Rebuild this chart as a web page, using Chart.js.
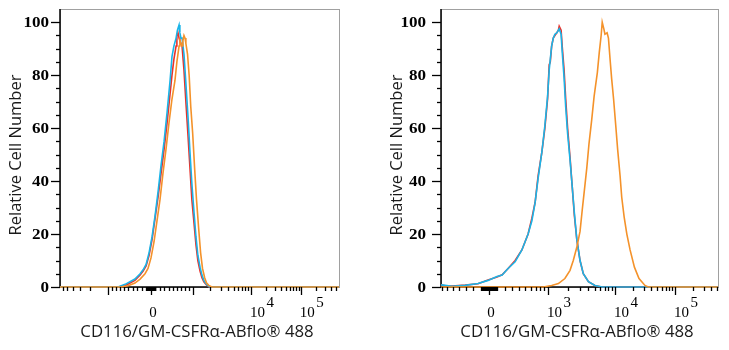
<!DOCTYPE html>
<html>
<head>
<meta charset="utf-8">
<script src="https://cdn.jsdelivr.net/npm/chart.js@4.4.0/dist/chart.umd.min.js"></script>
<style>
  body { margin: 0; background: #fff; }
  .panel { position: absolute; top: 0; height: 350px; }
  #wrapLeft { left: 0; width: 365px; }
  #wrapRight { left: 365px; width: 364px; }
</style>
</head>
<body>
<div class="panel" id="wrapLeft"><canvas id="leftChart" width="365" height="350"></canvas></div>
<div class="panel" id="wrapRight"><canvas id="rightChart" width="364" height="350"></canvas></div>
<script>
// histogram data, x = display channel (0-1024), y = relative cell number

// left panel
const leftRedX = [0, 213, 239, 257, 275, 294, 305, 316, 327, 338, 349, 360, 371, 382, 393, 404, 411, 418, 426, 429, 433, 437, 440, 448, 455, 462, 470, 477, 484, 492, 499, 506, 514, 521, 528, 536, 547, 1024];
const leftRedY = [0, 0, 0.5, 1.5, 2.5, 4.5, 6, 8, 12, 18, 26, 34, 43, 52, 62, 73, 80, 86, 91, 95, 96, 94, 93, 91, 82, 70, 57, 45, 33, 24, 16, 10, 6, 3.5, 2, 1, 0, 0];

const leftCyanX = [0, 213, 239, 257, 275, 294, 305, 316, 327, 338, 349, 360, 371, 382, 393, 404, 411, 418, 426, 431, 437, 440, 444, 448, 455, 462, 470, 477, 484, 492, 499, 506, 514, 521, 528, 536, 543, 550, 1024];
const leftCyanY = [0, 0, 1, 2, 3, 5, 6.5, 8.5, 13, 19, 27, 36, 46, 55, 66, 78, 87, 91, 94, 97, 99, 96, 94, 94, 88, 77, 64, 51, 39, 28, 19, 12, 7.5, 4.5, 2.5, 1.2, 0.5, 0, 0];

const leftOrangeX = [0, 224, 250, 275, 294, 312, 323, 334, 345, 356, 367, 378, 389, 400, 411, 422, 429, 437, 440, 444, 448, 451, 455, 459, 462, 468, 474, 480, 487, 494, 501, 509, 516, 523, 531, 538, 546, 558, 1024];
const leftOrangeY = [0, 0, 0.5, 1.5, 3, 5, 7, 11, 17, 25, 33, 43, 52, 62, 71, 78, 85, 91, 93, 92, 91, 93, 95, 94, 92, 88, 80, 68, 58, 45, 33, 22, 13, 7, 3.5, 1.5, 0.6, 0, 0];

// right panel
const rightRedX = [0, 15, 41, 89, 137, 174, 207, 226, 248, 274, 299, 322, 336, 348, 359, 373, 384, 394, 400, 404, 409, 415, 421, 428, 434, 437, 444, 448, 455, 461, 468, 477, 485, 493, 502, 514, 526, 545, 569, 595, 1024];
const rightRedY = [0.8, 0.5, 0.4, 0.7, 1.2, 2.6, 3.8, 4.6, 7, 10, 14, 20, 26, 32, 42, 51, 60, 71, 84, 85, 91, 94, 95, 96, 97, 98.5, 97, 91, 82, 71, 60, 49, 38, 27, 18, 10, 5, 2, 0.6, 0, 0];

const rightCyanX = [0, 15, 41, 89, 137, 174, 207, 226, 248, 274, 299, 322, 336, 348, 359, 373, 384, 394, 400, 404, 409, 415, 421, 428, 434, 437, 444, 448, 455, 461, 468, 477, 485, 493, 502, 514, 526, 545, 569, 595, 1024];
const rightCyanY = [0.8, 0.6, 0.3, 0.6, 1.3, 2.5, 4, 4.5, 7, 9.5, 14, 20, 25, 32, 41, 51, 61, 72, 82, 86, 91, 94, 95.5, 96, 97, 97.5, 95.5, 89, 79, 68, 58, 48, 38, 28, 18, 10, 5, 2, 0.6, 0, 0];

const rightOrangeX = [0, 378, 409, 434, 458, 477, 489, 502, 514, 522, 530, 539, 547, 557, 566, 572, 578, 585, 592, 596, 602, 606, 614, 619, 625, 631, 638, 646, 653, 662, 668, 677, 687, 699, 715, 732, 754, 766, 1024];
const rightOrangeY = [0, 0, 0.6, 1.3, 3.2, 6.3, 10, 15, 21, 29, 36.5, 45, 54, 63, 72, 76.5, 81, 88.5, 95, 100, 97.5, 95.5, 96, 94, 86, 78.5, 71, 61, 52, 42, 34, 26.5, 20, 14, 7.5, 3.2, 0.6, 0, 0];

// axis labels
const yTickValues = [0, 20, 40, 60, 80, 100];
const leftXLabels = [0, 1e4, 1e5];
const rightXLabels = [0, 1e3, 1e4, 1e5];
const xTitle = 'CD116/GM-CSFRα-ABflo® 488';
const yTitle = 'Relative Cell Number';

const colors = { red: '#e8322b', cyan: '#1ab4e8', orange: '#f4922a' };

// biexponential display: channel of -1e3, 0, 1e3, 1e4, 1e5 plus linear width near zero
const leftScale = { pm: 176, p0: 334, p3: 488, p4: 701, p5: 884, c: 1500 };
const rightScale = { pm: -41, p0: 177, p3: 396, p4: 643, p5: 865, c: 500 };

function makeTransform(a) {
  const k = Math.asinh(1000 / a.c);
  return function (v) {
    if (v >= 1e4) return a.p4 + (Math.log10(v) - 4) * (a.p5 - a.p4);
    if (v >= 1e3) return a.p3 + (Math.log10(v) - 3) * (a.p4 - a.p3);
    if (v >= 0) return a.p0 + (a.p3 - a.p0) * Math.asinh(v / a.c) / k;
    if (v > -1e3) return a.p0 - (a.p0 - a.pm) * Math.asinh(-v / a.c) / k;
    return a.pm - (Math.log10(-v) - 3) * (a.p4 - a.p3);
  };
}

// tick values for the flow axis
const majorValues = [-1e4, -1e3, 0, 1e3, 1e4, 1e5];
const minorValues = [];
for (let j = 1; j <= 5; j++) {
  for (let k = 1; k <= 9; k++) {
    if (k === 1 && j >= 3) continue;
    minorValues.push(k * Math.pow(10, j), -k * Math.pow(10, j));
  }
}

const panels = {
  leftChart: { t: makeTransform(leftScale), labels: leftXLabels, yGap: 11 },
  rightChart: { t: makeTransform(rightScale), labels: rightXLabels, yGap: 15 }
};

function stretchText(ctx, text, x, y, align, sx) {
  ctx.save();
  ctx.translate(x, y);
  ctx.scale(sx, 1);
  ctx.textAlign = align;
  ctx.fillText(text, 0, 0);
  ctx.restore();
}

const flowAxes = {
  id: 'flowAxes',
  beforeDatasetsDraw(chart) {
    const { ctx, chartArea: a } = chart;
    ctx.save();
    ctx.strokeStyle = '#a0a0a0';
    ctx.lineWidth = 1;
    ctx.strokeRect(a.left + 0.5, a.top + 0.5, a.right - a.left, a.bottom - a.top);
    ctx.strokeStyle = '#000';
    ctx.lineWidth = 1.5;
    ctx.beginPath();
    ctx.moveTo(a.left, a.top);
    ctx.lineTo(a.left, a.bottom);
    ctx.lineTo(a.right, a.bottom);
    ctx.stroke();
    ctx.restore();
  },
  afterDraw(chart) {
    const { ctx, chartArea: a } = chart;
    const xs = chart.scales.x, ys = chart.scales.y;
    const p = panels[chart.canvas.id];
    ctx.save();
    ctx.strokeStyle = '#000';
    ctx.fillStyle = '#000';
    ctx.lineWidth = 1.3;

    // y ticks
    for (let v = 0; v <= 100; v += 5) {
      const y = Math.round(ys.getPixelForValue(v)) + 0.5;
      const len = v % 20 === 0 ? 9 : 4;
      ctx.beginPath();
      ctx.moveTo(a.left - len, y);
      ctx.lineTo(a.left, y);
      ctx.stroke();
    }
    ctx.font = 'bold 14px "Liberation Serif"';
    ctx.textBaseline = 'middle';
    yTickValues.forEach(v => {
      stretchText(ctx, String(v), a.left - p.yGap, ys.getPixelForValue(v) + 1, 'right', 1.22);
    });

    // x ticks
    const drawTick = (v, len) => {
      const ch = p.t(v);
      if (ch < 0 || ch > 1024) return;
      const x = Math.round(xs.getPixelForValue(ch)) + 0.5;
      ctx.beginPath();
      ctx.moveTo(x, a.bottom);
      ctx.lineTo(x, a.bottom + len);
      ctx.stroke();
    };
    minorValues.forEach(v => drawTick(v, 4));
    majorValues.forEach(v => drawTick(v, 8));

    ctx.textBaseline = 'alphabetic';
    ctx.font = '15px "Liberation Serif"';
    p.labels.forEach(v => {
      const x = xs.getPixelForValue(p.t(v));
      if (v === 0) {
        ctx.textAlign = 'center';
        ctx.fillText('0', x + 2, a.bottom + 30);
      } else {
        ctx.textAlign = 'left';
        const base = '10';
        ctx.fillText(base, x - 1, a.bottom + 30);
        const w = ctx.measureText(base).width;
        ctx.fillText(String(Math.round(Math.log10(v))), x + w + 0.5, a.bottom + 20);
      }
    });

    // axis titles
    ctx.fillStyle = '#1a1a1a';
    ctx.font = '16.8px "Open Sans"';
    ctx.textAlign = 'center';
    ctx.fillText(xTitle, (a.left + a.right) / 2 - 2.5, a.bottom + 50);
    ctx.save();
    ctx.font = '16.5px "Open Sans"';
    ctx.translate(a.left - 43.5, (a.top + a.bottom) / 2 + 7);
    ctx.rotate(-Math.PI / 2);
    ctx.textBaseline = 'middle';
    ctx.fillText(yTitle, 0, 0);
    ctx.restore();
    ctx.restore();
  }
};

function series(xs, ys, color) {
  return {
    data: xs.map((x, i) => ({ x: x, y: ys[i] })),
    borderColor: color,
    borderWidth: 1.6,
    pointRadius: 0,
    tension: 0,
    fill: false,
    clip: 3
  };
}

function makeChart(id, sets, pad) {
  return new Chart(document.getElementById(id), {
    type: 'line',
    data: { datasets: sets },
    options: {
      responsive: false,
      animation: false,
      layout: { padding: pad },
      plugins: { legend: { display: false }, tooltip: { enabled: false } },
      scales: {
        x: { type: 'linear', min: 0, max: 1024, display: false },
        y: { min: 0, max: 105, display: false }
      }
    },
    plugins: [flowAxes]
  });
}

// first dataset is drawn on top: orange, then cyan, then red underneath
makeChart('leftChart', [
  series(leftOrangeX, leftOrangeY, colors.orange),
  series(leftCyanX, leftCyanY, colors.cyan),
  series(leftRedX, leftRedY, colors.red)
], { left: 60, right: 26, top: 9, bottom: 63 });

makeChart('rightChart', [
  series(rightOrangeX, rightOrangeY, colors.orange),
  series(rightCyanX, rightCyanY, colors.cyan),
  series(rightRedX, rightRedY, colors.red)
], { left: 76, right: 11, top: 9, bottom: 63 });
</script>
</body>
</html>
